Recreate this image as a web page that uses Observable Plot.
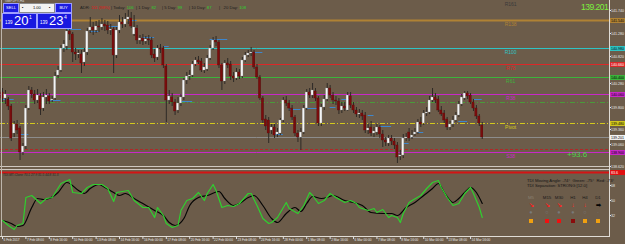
<!DOCTYPE html>
<html><head><meta charset="utf-8">
<script src="https://cdn.jsdelivr.net/npm/d3@7"></script>
<script src="https://cdn.jsdelivr.net/npm/@observablehq/plot@0.6"></script>
<style>
body{margin:0;background:#6c5c4a;}
#wrap{position:relative;width:625px;height:244px;overflow:hidden;background:#6c5c4a;font-family:"Liberation Sans",Arial,sans-serif;}
.a{position:absolute;white-space:nowrap;line-height:1;}
#wrap svg{position:absolute;left:0;}
</style></head><body><div id="wrap"></div>
<script>
// ---------- DATA ----------
const open = [140.10,139.98,139.96,139.82,139.28,139.46,139.38,138.90,139.02,139.78,
140.14,140.06,139.94,140.02,139.78,140.00,140.02,139.94,139.98,140.44,
140.54,140.98,141.02,141.32,141.26,140.90,140.86,140.86,140.70,140.90,
141.34,141.40,141.34,141.42,141.40,141.46,141.44,141.34,141.36,140.84,
141.34,141.50,141.46,141.56,141.58,141.26,141.38,141.14,141.18,141.12,
141.16,141.14,140.86,140.80,140.98,140.98,140.62,139.94,140.00,139.90,
139.74,139.88,140.00,140.34,140.42,140.44,140.66,140.74,140.72,140.54,
140.56,140.78,140.98,141.14,141.10,140.64,140.32,140.68,140.66,140.42,
140.38,140.50,140.42,140.74,140.84,140.88,140.90,140.60,140.40,139.98,
139.56,139.54,139.34,139.40,139.26,139.28,139.54,139.94,139.88,139.78,
139.60,139.28,139.20,139.30,139.78,140.10,140.04,140.12,139.98,139.48,
139.80,139.96,140.18,140.04,139.94,139.92,139.74,139.82,139.74,140.02,
139.84,139.74,139.66,139.68,139.64,139.34,139.40,139.28,139.30,139.40,
139.26,139.14,139.08,139.18,139.12,139.04,138.82,138.84,139.18,139.30,
139.20,139.26,139.30,139.50,139.48,139.68,139.70,139.94,140.00,139.96,
139.74,139.68,139.56,139.40,139.46,139.54,139.64,139.86,139.98,140.08,
140.04,139.90,139.78,139.62,139.44];
const high = [140.18,140.14,140.00,139.86,139.52,139.54,139.42,139.08,139.84,140.22,
140.20,140.14,140.16,140.08,140.10,140.16,140.08,140.02,140.50,140.62,
141.04,141.14,141.38,141.40,141.30,140.98,140.94,140.94,140.98,141.38,
141.60,141.50,141.52,141.54,141.58,141.54,141.52,141.46,141.40,141.40,
141.64,141.60,141.68,141.74,141.70,141.64,141.44,141.24,141.26,141.22,
141.24,141.20,140.96,141.04,141.06,141.02,140.66,140.14,140.08,139.96,
140.00,140.06,140.38,140.50,140.54,140.72,140.80,140.82,140.78,140.68,
140.84,141.04,141.20,141.22,141.14,140.68,140.74,140.78,140.72,140.50,
140.58,140.56,140.80,140.90,140.94,141.00,140.94,140.66,140.44,140.02,
139.64,139.60,139.46,139.46,139.38,139.58,140.00,140.02,139.94,139.84,
139.64,139.34,139.38,139.84,140.16,140.18,140.28,140.18,140.02,139.86,
140.04,140.28,140.24,140.10,140.02,139.98,139.90,139.90,140.10,140.10,
139.90,139.80,139.76,139.74,139.70,139.46,139.52,139.40,139.46,139.44,
139.34,139.20,139.24,139.24,139.18,139.10,138.94,139.26,139.28,139.38,
139.34,139.38,139.56,139.60,139.74,139.80,140.02,140.18,140.08,140.02,
139.82,139.74,139.60,139.52,139.62,139.70,139.92,140.06,140.12,140.12,
140.08,139.96,139.84,139.66,139.50];
const low = [139.90,139.86,139.74,139.12,139.20,139.26,138.74,138.84,138.96,139.74,
139.98,139.86,139.88,139.64,139.72,139.86,139.86,139.90,139.94,140.38,
140.50,140.90,140.94,141.14,140.70,140.74,140.78,140.48,140.62,140.84,
141.28,141.24,141.28,141.30,141.34,141.32,141.26,141.24,140.48,140.78,
141.28,141.38,141.40,141.46,141.38,141.22,141.06,141.06,141.04,141.06,
141.04,140.78,140.70,140.74,140.88,140.58,139.50,139.86,139.82,139.64,
139.68,139.82,139.94,140.26,140.34,140.40,140.62,140.66,140.50,140.48,
140.52,140.74,140.94,141.02,140.58,140.14,140.26,140.58,140.34,140.30,
140.34,140.36,140.38,140.70,140.80,140.82,140.56,140.36,139.94,139.48,
139.34,139.08,139.26,139.18,139.20,139.24,139.50,139.82,139.72,139.54,
139.22,139.10,138.94,139.26,139.74,139.98,139.98,139.92,139.42,139.42,
139.74,139.92,139.98,139.86,139.84,139.66,139.68,139.72,139.72,139.78,
139.68,139.60,139.58,139.54,139.28,139.26,139.22,139.20,139.24,139.18,
139.00,139.02,139.02,139.04,138.96,138.68,138.74,138.78,139.12,139.12,
139.16,139.22,139.26,139.40,139.44,139.62,139.66,139.90,139.88,139.70,
139.62,139.48,139.34,139.34,139.40,139.50,139.60,139.82,139.94,139.96,
139.86,139.72,139.56,139.42,139.16];
const close = [139.98,140.06,139.82,139.18,139.46,139.34,138.90,139.02,139.78,140.14,
140.06,139.94,140.04,139.76,140.00,140.04,139.92,139.96,140.42,140.54,
140.98,141.06,141.32,141.26,140.90,140.86,140.88,140.68,140.90,141.32,
141.40,141.34,141.42,141.40,141.46,141.42,141.34,141.36,140.84,141.34,
141.50,141.46,141.56,141.60,141.42,141.40,141.14,141.18,141.12,141.16,
141.14,140.84,140.78,140.98,140.96,140.64,139.94,140.02,139.90,139.72,
139.88,140.00,140.34,140.42,140.44,140.66,140.74,140.70,140.54,140.60,
140.78,140.98,141.14,141.10,140.64,140.32,140.68,140.64,140.42,140.38,
140.50,140.42,140.74,140.84,140.88,140.90,140.60,140.40,139.98,139.54,
139.42,139.28,139.40,139.24,139.30,139.54,139.94,139.88,139.78,139.60,
139.28,139.20,139.30,139.78,140.10,140.04,140.14,139.98,139.48,139.80,
139.96,140.18,140.04,139.94,139.92,139.74,139.82,139.78,140.04,139.84,
139.74,139.66,139.68,139.62,139.34,139.38,139.28,139.32,139.40,139.26,
139.14,139.10,139.18,139.12,139.04,138.80,138.84,139.18,139.20,139.18,
139.24,139.30,139.50,139.46,139.68,139.70,139.94,140.00,139.94,139.74,
139.66,139.54,139.40,139.46,139.54,139.64,139.86,140.00,140.08,140.02,
139.90,139.78,139.62,139.48,139.20];

// pivot levels
const levelNames  = ["R161","R138","R100","R78","R61","R38","Pivot","S38"];
const levelPrices = [141.94,141.54,140.98,140.66,140.40,140.06,139.48,138.90];
// other horizontal lines
const extraNames  = ["mid","bid","stop"];
const extraPrices = [139.90,139.20,138.96];
const bidPrice = 139.201;

// short blue marker segments: [fromBar, toBar, price]
const segFrom  = [0,6,16,22,30,36,43,48,55,61,71,85,93,98,104,112,116,125,129,137,142,156,161];
const segTo    = [4,9,20,27,33,40,46,52,57,65,77,89,96,102,108,114,119,127,133,139,144,159,164];
const segPrice = [139.96,139.26,139.94,141.36,141.32,141.42,141.54,141.20,141.02,139.92,141.16,140.90,139.26,139.76,139.78,139.80,139.96,139.64,139.42,139.08,139.30,139.52,139.96];

// price axis ticks
const priceTicks = [141.740,141.280,140.820,140.280,139.800,139.360,139.060,138.620];

// TDI indicator (bar, value)
const greenBar = [0,2,4,5,7,8,10,13,15,17,20,23,24,27,29,31,34,36,38,39,43,45,48,50,52,53,55,56,58,60,61,63,65,67,69,70,72,73,75,77,79,81,84,85,87,89,91,92,94,97,98,101,103,105,106,108,110,112,114,117,119,121,122,125,127,128,130,132,133,135,136,137,139,140,143,145,147,149,150,152,154,156,158,160,161,163,164];
const greenVal = [26.0,20.0,15.2,20.0,22.4,53.6,56.0,46.4,52.4,53.6,70.4,75.2,59.6,58.4,65.6,69.2,69.2,64.4,48.8,59.6,62.0,50.0,41.6,41.6,29.6,41.6,32.0,22.4,17.6,20.0,38.0,50.0,52.4,59.6,50.0,58.4,69.2,62.0,41.6,44.0,42.8,46.4,58.4,58.4,44.0,28.4,22.4,23.6,29.6,47.6,40.4,34.4,44.0,59.6,56.0,46.4,50.0,58.4,53.6,47.6,50.0,46.4,41.6,38.0,40.4,35.6,39.2,29.6,32.0,29.6,23.6,34.4,47.6,50.0,56.0,64.4,71.6,74.0,65.6,53.6,44.0,46.4,58.4,65.6,58.4,41.6,29.6];
const blackBar = [0,3,5,7,10,12,14,16,19,22,26,28,30,33,35,38,40,42,45,48,52,55,57,59,62,64,67,70,74,76,79,81,84,86,89,92,94,97,100,102,104,106,109,111,113,117,120,123,126,130,133,135,138,141,144,147,149,151,154,156,158,160,162,164];
const blackVal = [26.0,22.4,18.8,20.0,41.6,52.4,51.2,52.4,59.6,71.6,62.0,58.4,64.4,69.2,65.6,59.6,56.0,58.4,52.4,46.4,38.0,32.0,23.6,20.0,28.4,44.0,53.6,56.0,60.8,52.4,44.0,46.4,53.6,56.0,44.0,28.4,23.6,34.4,41.6,36.8,46.4,54.8,52.4,53.6,56.0,50.0,47.6,44.0,35.6,34.4,34.4,32.0,41.6,47.6,56.0,64.4,70.4,59.6,47.6,52.4,59.6,65.6,59.6,46.4];
const tdiTicks = [68, 50, 32];
const tdiUpper = 83.6;

// time axis
const timeBars = [0,8,16,24,32,40,48,56,64,72,80,88,96,104,112,120,128,136,144,152,160];
const timeLabels = ["6 Feb 2017","7 Feb 08:00","8 Feb 16:00","10 Feb 00:00","13 Feb 08:00","14 Feb 16:00","16 Feb 00:00","17 Feb 08:00","20 Feb 16:00","22 Feb 00:00","23 Feb 08:00","24 Feb 16:00","28 Feb 00:00","1 Mar 08:00","2 Mar 16:00","6 Mar 00:00","7 Mar 08:00","8 Mar 16:00","10 Mar 00:00","13 Mar 08:00","14 Mar 16:00"];

// ---------- STYLE ----------
const X_DOMAIN = [-0.684, 207.5];
const levelStyle = {
  R161:{c:"#3a3a3a", line:false},
  R138:{c:"#b08234", w:2},
  R100:{c:"#2ec4c4", w:1},
  R78:{c:"#dc2828", w:1},
  R61:{c:"#3cb43c", w:1},
  R38:{c:"#c828c8", w:1},
  Pivot:{c:"#d2c81e", w:1, dash:"5,2,1,2"},
  S38:{c:"#c828c8", w:1}
};
const boxText = {R138:"#000",R100:"#000",R78:"#fff",R61:"#000",R38:"#000",Pivot:"#000",S38:"#000"};
const extraStyle = {mid:{c:"#4a9a3a", dash:"5,2,1,2"}, bid:{c:"#8c8c8c"}, stop:{c:"#b02828", dash:"3,2"}};
const fontFam = "Liberation Sans, Arial, sans-serif";
const AX_FS = 3.6;

const candles = open.map((o,i)=>({i, o, h:high[i], l:low[i], c:close[i]}));
const segs = segFrom.map((f,k)=>({f, t:segTo[k], p:segPrice[k]}));
const LABEL_BAR = 173.7;

const marks = [];
levelNames.forEach((n,k)=>{
  const s = levelStyle[n];
  if (s.line !== false) marks.push(Plot.ruleY([levelPrices[k]], {stroke:s.c, strokeWidth:s.w, strokeDasharray:s.dash}));
});
extraNames.forEach((n,k)=>{
  const s = extraStyle[n];
  marks.push(Plot.ruleY([extraPrices[k]], {stroke:s.c, strokeWidth:1, strokeDasharray:s.dash}));
});
marks.push(
  Plot.ruleY(segs, {x1:"f", x2:"t", y:"p", stroke:"#3e86cc", strokeWidth:1}),
  Plot.ruleX(candles, {x:"i", y1:"l", y2:"h", stroke:"#2e2a26", strokeWidth:1}),
  Plot.rect(candles, {x1:d=>d.i-0.38, x2:d=>d.i+0.38, y1:"o", y2:"c",
    fill:d=>d.c>=d.o?"#f4f4f4":"#7a0c0c", stroke:d=>d.c>=d.o?"#8a8a8a":"#5a0808", strokeWidth:0.3}),
  Plot.text(levelNames.map((n,k)=>({n,p:levelPrices[k]})), {x:()=>LABEL_BAR, y:"p", text:"n", dy:4,
    fill:d=>levelStyle[d.n].c, fontSize:5, fontFamily:fontFam}),
  Plot.axisY({anchor:"right", ticks:priceTicks, tickSize:1, tickPadding:0.5, fontSize:AX_FS, color:"#e8e8e8",
    tickFormat:d3.format(".3f"), fontFamily:fontFam, textAnchor:"start"}),
);
levelNames.forEach((n,k)=>{
  if (n==="R161") return;
  marks.push(Plot.ruleY([levelPrices[k]], {stroke:levelStyle[n].c, strokeWidth:5, insetLeft:610, insetRight:-16}));
  marks.push(Plot.text([levelPrices[k]], {y:d=>d, text:d=>d.toFixed(3), frameAnchor:"right", dx:1.5, textAnchor:"start",
    fontSize:AX_FS, fill:boxText[n], fontFamily:fontFam}));
});
marks.push(
  Plot.ruleY([bidPrice], {stroke:"#f4f4f4", strokeWidth:5, insetLeft:610, insetRight:-16}),
  Plot.text([bidPrice], {y:d=>d, text:d=>d.toFixed(3), frameAnchor:"right", dx:1.5, textAnchor:"start", fontSize:AX_FS, fill:"#000", fontFamily:fontFam})
);

const main = Plot.plot({
  width:625, height:168, marginLeft:0, marginRight:16, marginTop:0, marginBottom:0,
  x:{domain:X_DOMAIN, axis:null}, y:{domain:[138.58,141.94], axis:null},
  style:{background:"transparent", overflow:"visible", fontFamily:fontFam},
  marks
});
main.style.top = "0px";

const green = greenBar.map((b,k)=>({b, v:greenVal[k]}));
const black = blackBar.map((b,k)=>({b, v:blackVal[k]}));
const ind = Plot.plot({
  width:625, height:76, marginLeft:0, marginRight:16, marginTop:2, marginBottom:8,
  x:{domain:X_DOMAIN, axis:null}, y:{domain:[6.8,86], axis:null},
  style:{background:"transparent", overflow:"visible", fontFamily:fontFam},
  marks:[
    Plot.ruleY([tdiUpper], {stroke:"#d41414", strokeWidth:2}),
    Plot.line(black, {x:"b", y:"v", stroke:"#050505", strokeWidth:1.2, curve:"monotone-x"}),
    Plot.line(green, {x:"b", y:"v", stroke:"#2fd02f", strokeWidth:1.2}),
    Plot.axisY({anchor:"right", ticks:tdiTicks, tickSize:1, tickPadding:0.5, fontSize:AX_FS, color:"#e8e8e8", textAnchor:"start", fontFamily:fontFam}),
    Plot.ruleY([tdiUpper], {stroke:"#e01010", strokeWidth:5, insetLeft:610, insetRight:-16}),
    Plot.text([tdiUpper], {y:d=>d, text:d=>d.toFixed(1), frameAnchor:"right", dx:1.5, textAnchor:"start", fontSize:AX_FS, fill:"#fff", fontFamily:fontFam}),
    Plot.ruleX(timeBars, {x:d=>d, insetTop:66, insetBottom:-3, stroke:"#e0e0e0"}),
    Plot.text(timeBars, {x:d=>d, text:(d,i)=>timeLabels[i], frameAnchor:"bottom", dy:4.5, dx:1, textAnchor:"start", fontSize:3.2, fill:"#e8e8e8", fontFamily:fontFam})
  ]
});
ind.style.top = "168px";

const wrap = document.getElementById("wrap");
wrap.appendChild(main);
wrap.appendChild(ind);

// frame lines and overlays
wrap.insertAdjacentHTML("beforeend", `
<div class="a" style="left:0;top:166px;width:609px;height:1px;background:#cfc8c0"></div>
<div class="a" style="left:0;top:169px;width:609px;height:1px;background:#cfc8c0"></div>
<div class="a" style="left:0;top:236px;width:610px;height:1px;background:#e0dcd6"></div>
<div class="a" style="left:609px;top:0;width:1px;height:237px;background:#e0dcd6"></div>
<div class="a" style="left:1px;top:0;width:1px;height:236px;background:#bdb5ab"></div>

<div class="a" style="left:5px;top:0px;font-size:3.6px;color:#d8d8d8">GBPJPY,H4</div>

<div class="a" style="left:3px;top:3px;width:14px;height:8px;background:#1c1ce0;border:1px solid #9c9cff;color:#fff;font-size:4px;text-align:center;line-height:8px">SELL</div>
<div class="a" style="left:19px;top:3px;width:34px;height:8px;background:#f2f2f2;border:1px solid #8c8c8c;color:#000;font-size:4px;line-height:8px">
  <span class="a" style="left:2px;top:0;line-height:8px">▪</span><span class="a" style="left:13px;top:0;line-height:8px">1.00</span><span class="a" style="left:29px;top:0;line-height:8px">▪</span></div>
<div class="a" style="left:55px;top:3px;width:15px;height:8px;background:#1c1ce0;border:1px solid #9c9cff;color:#fff;font-size:4px;text-align:center;line-height:8px">BUY</div>
<div class="a" style="left:2px;top:13px;width:33px;height:14px;background:#1818e0;border:1px solid #a0a0ff"></div>
<div class="a" style="left:37px;top:13px;width:33px;height:14px;background:#1818e0;border:1px solid #a0a0ff"></div>
<div class="a" style="left:5px;top:21px;font-size:4.5px;color:#fff">139</div>
<div class="a" style="left:14px;top:14px;font-size:13px;color:#fff">20</div>
<div class="a" style="left:29px;top:15px;font-size:5px;color:#fff">1</div>
<div class="a" style="left:40px;top:21px;font-size:4.5px;color:#fff">139</div>
<div class="a" style="left:49px;top:14px;font-size:13px;color:#fff">23</div>
<div class="a" style="left:64px;top:15px;font-size:5px;color:#fff">4</div>

<div class="a" style="left:80px;top:6px;font-size:4.2px;color:#1e1e1e">ADR: <span style="color:#e01818">111 (98%)</span></div>
<div class="a" style="left:111px;top:6px;font-size:4.2px;color:#1e1e1e">| Today: <span style="color:#2ed02e">106</span></div>
<div class="a" style="left:136px;top:6px;font-size:4.2px;color:#1e1e1e">| 1 Day: <span style="color:#2ed02e">82</span></div>
<div class="a" style="left:162px;top:6px;font-size:4.2px;color:#1e1e1e">| 5 Day: <span style="color:#2ed02e">99</span></div>
<div class="a" style="left:189px;top:6px;font-size:4.2px;color:#1e1e1e">| 10 Day: <span style="color:#2ed02e">87</span></div>
<div class="a" style="left:219px;top:6px;font-size:4.2px;color:#1e1e1e">|&nbsp;&nbsp; 20 Day: <span style="color:#2ed02e">108</span></div>

<div class="a" style="left:581px;top:3px;font-size:8.5px;color:#7cf03c;letter-spacing:-0.5px">139.201</div>
<div class="a" style="left:567px;top:151px;font-size:8px;color:#4cd44c">+93.6</div>

<div class="a" style="left:3px;top:174px;font-size:3.2px;color:#2a2420">TDI-MT-Clone 70.1 27.9 31.5 44.8 31.3</div>
<div class="a" style="left:527px;top:179px;font-size:4.2px;color:#151515">TDI Moving Angle: -74°&nbsp; Green: -75°&nbsp; Red: -73°</div>
<div class="a" style="left:527px;top:184px;font-size:4.2px;color:#151515">TDI Separation: STRONG [12.0]</div>
`);

// timeframe table
const tfNames = ["M5","M15","M30","H1","H4","D1"];
const tfX = [531,547,559,573,585,598];
const tfArrow = ["↘","↘","↘","↓","↓","➡"];
const tfArrowC = ["#ff2020","#ff2020","#ff2020","#ff2020","#ff2020","#050505"];
const tfDot = ["●","○","●","●","○","·"];
const tfSq = ["#f0a010","#f01010","#f01010","#8a0c0c","#f0a010","#f0a010"];
tfNames.forEach((n,k)=>{
  const cx = tfX[k];
  wrap.insertAdjacentHTML("beforeend", `
  <div class="a" style="left:${cx-8}px;width:16px;text-align:center;top:196px;font-size:4.4px;color:${k===0?'#8a8070':'#1a1a1a'}">${n}</div>
  <div class="a" style="left:${cx-8}px;width:16px;text-align:center;top:202px;font-size:6px;font-weight:bold;color:${tfArrowC[k]}">${tfArrow[k]}</div>
  <div class="a" style="left:${cx-8}px;width:16px;text-align:center;top:210px;font-size:5.5px;color:#7a7a7a">${tfDot[k]}</div>
  <div class="a" style="left:${cx-2}px;top:219px;width:4px;height:4px;background:${tfSq[k]}"></div>`);
});
</script></body></html>
